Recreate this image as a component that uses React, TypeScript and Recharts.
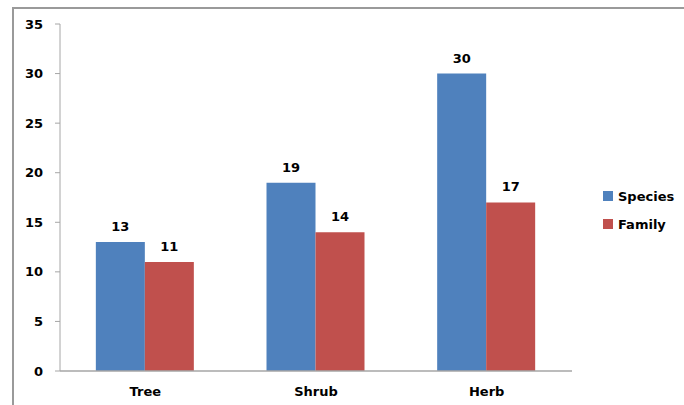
import { Bar, BarChart, LabelList, XAxis, YAxis } from 'recharts';

const categories = ['Tree', 'Shrub', 'Herb'];
const species = [13, 19, 30];
const family = [11, 14, 17];
const yTicks = [0, 5, 10, 15, 20, 25, 30, 35];
const boundaryTicks = [0, 2, 3];

const seriesMeta = [
  { key: 'species', name: 'Species', color: '#4F81BD' },
  { key: 'family', name: 'Family', color: '#C0504D' },
];

const data = categories.map((name, i) => ({ name, species: species[i], family: family[i] }));

const font = '"DejaVu Sans", Verdana, sans-serif';
const axisColor = '#a6a6a6';
const textStyle = { fill: '#000', fontSize: 13, fontWeight: 700, fontFamily: font };

function LegendBox(): JSX.Element {
  return (
    <div
      style={{
        position: 'absolute',
        left: 603,
        top: 182,
        fontFamily: font,
        fontSize: 13,
        fontWeight: 700,
        color: '#000',
      }}
    >
      {seriesMeta.map((s) => (
        <div key={s.key} style={{ display: 'flex', alignItems: 'center', height: 28 }}>
          <span style={{ width: 10, height: 10, background: s.color, marginRight: 5, display: 'inline-block' }} />
          <span>{s.name}</span>
        </div>
      ))}
    </div>
  );
}

export default function App(): JSX.Element {
  return (
    <div style={{ position: 'absolute', left: 0, top: 0, width: 684, height: 405, overflow: 'hidden', background: '#fff' }}>
      <div
        style={{
          position: 'absolute',
          left: 12,
          top: 7,
          width: 720,
          height: 440,
          borderTop: '2px solid #9a9a9a',
          borderLeft: '2px solid #9a9a9a',
        }}
      />
      <BarChart
        width={684}
        height={405}
        data={data}
        margin={{ top: 24, right: 112, left: 12, bottom: 4 }}
        barCategoryGap="21%"
        barGap={0}
        style={{ position: 'absolute', left: 0, top: 0 }}
      >
        <XAxis
          xAxisId="bounds"
          type="number"
          domain={[0, 3]}
          ticks={boundaryTicks}
          tick={false}
          axisLine={false}
          tickLine={{ stroke: axisColor }}
          tickSize={5}
          height={0}
        />
        <XAxis
          dataKey="name"
          axisLine={{ stroke: axisColor, strokeWidth: 1.5 }}
          tickLine={false}
          tickSize={5}
          tickMargin={11}
          tick={textStyle}
          height={30}
        />
        <YAxis
          domain={[0, 35]}
          ticks={yTicks}
          width={48}
          axisLine={{ stroke: axisColor }}
          tickLine={{ stroke: axisColor }}
          tickSize={5}
          tickMargin={12}
          tick={textStyle}
        />
        {seriesMeta.map((s) => (
          <Bar key={s.key} dataKey={s.key} name={s.name} fill={s.color} isAnimationActive={false}>
            <LabelList dataKey={s.key} position="top" offset={11} style={textStyle} />
          </Bar>
        ))}
      </BarChart>
      <LegendBox />
    </div>
  );
}
